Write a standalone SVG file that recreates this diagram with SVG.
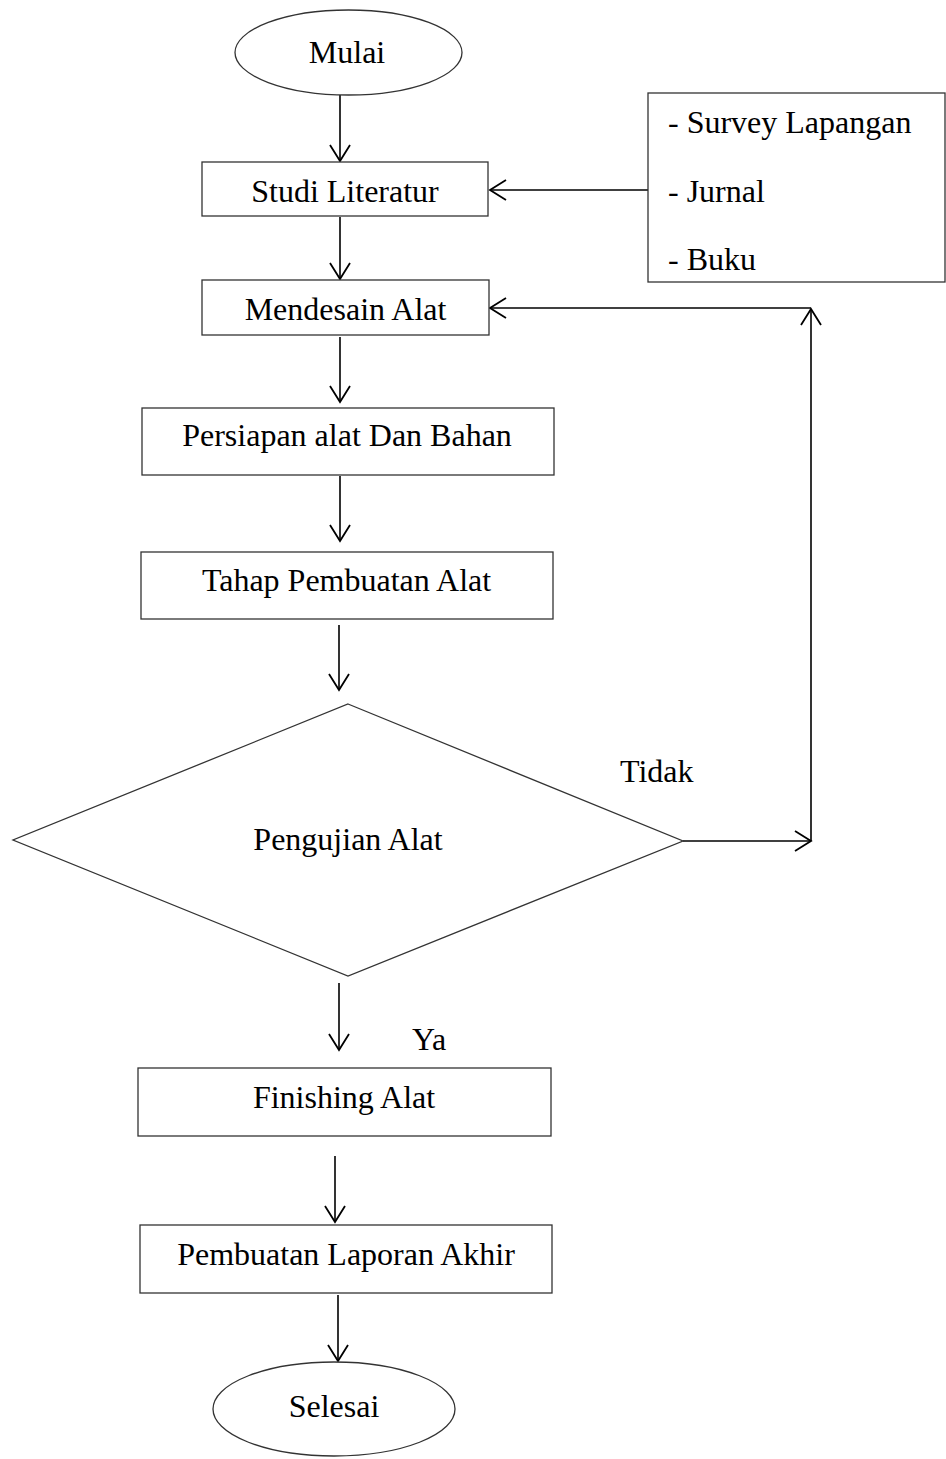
<svg xmlns="http://www.w3.org/2000/svg" width="946" height="1459" viewBox="0 0 946 1459">
<style>
  .box{fill:#fff;stroke:#333;stroke-width:1.3}
  .t{font-family:"Liberation Serif","Times New Roman",serif;font-size:32px;fill:#000}
  .c{text-anchor:middle}
  .ln{stroke:#000;stroke-width:1.6;fill:none}
</style>
<defs>
  <marker id="ah" markerUnits="userSpaceOnUse" markerWidth="24" markerHeight="24" viewBox="-18 -12 20 24" refX="0" refY="0" orient="auto">
    <path d="M-16,-10 L0,0 L-16,10" fill="none" stroke="#000" stroke-width="1.8"/>
  </marker>
</defs>
<rect width="946" height="1459" fill="#fff"/>
<g id="connectors">
  <line class="ln" x1="340" y1="95" x2="340" y2="161" marker-end="url(#ah)"/>
  <line class="ln" x1="340" y1="217" x2="340" y2="279" marker-end="url(#ah)"/>
  <line class="ln" x1="648" y1="190" x2="490" y2="190" marker-end="url(#ah)"/>
  <line class="ln" x1="340" y1="337" x2="340" y2="402" marker-end="url(#ah)"/>
  <line class="ln" x1="340" y1="476" x2="340" y2="541" marker-end="url(#ah)"/>
  <line class="ln" x1="339" y1="625" x2="339" y2="690" marker-end="url(#ah)"/>
  <line class="ln" x1="683" y1="841" x2="811" y2="841" marker-end="url(#ah)"/>
  <line class="ln" x1="811" y1="841" x2="811" y2="309" marker-end="url(#ah)"/>
  <line class="ln" x1="811" y1="308" x2="490" y2="308" marker-end="url(#ah)"/>
  <line class="ln" x1="339" y1="983" x2="339" y2="1050" marker-end="url(#ah)"/>
  <line class="ln" x1="335" y1="1156" x2="335" y2="1222" marker-end="url(#ah)"/>
  <line class="ln" x1="338" y1="1295" x2="338" y2="1361" marker-end="url(#ah)"/>
  <text class="t" x="620" y="782">Tidak</text>
  <text class="t" x="412" y="1050">Ya</text>
</g>
<g id="mulai">
  <ellipse class="box" cx="348.5" cy="52.5" rx="113.5" ry="42.5"/>
  <text class="t c" x="347" y="63">Mulai</text>
</g>
<g id="studi">
  <rect class="box" x="202" y="162" width="286" height="54"/>
  <text class="t c" x="345" y="202">Studi Literatur</text>
</g>
<g id="sumber">
  <rect class="box" x="648" y="93" width="297" height="189"/>
  <text class="t" x="668" y="133">- Survey Lapangan</text>
  <text class="t" x="668" y="202">- Jurnal</text>
  <text class="t" x="668" y="270">- Buku</text>
</g>
<g id="mendesain">
  <rect class="box" x="202" y="280" width="287" height="55"/>
  <text class="t c" x="345.5" y="320">Mendesain Alat</text>
</g>
<g id="persiapan">
  <rect class="box" x="142" y="408" width="412" height="67"/>
  <text class="t c" x="347" y="446">Persiapan alat Dan Bahan</text>
</g>
<g id="tahap">
  <rect class="box" x="141" y="552" width="412" height="67"/>
  <text class="t c" x="346.5" y="591">Tahap Pembuatan Alat</text>
</g>
<g id="pengujian">
  <polygon class="box" points="348,704 683,841 348,976 13,840"/>
  <text class="t c" x="348" y="850">Pengujian Alat</text>
</g>
<g id="finishing">
  <rect class="box" x="138" y="1068" width="413" height="68"/>
  <text class="t c" x="344" y="1108">Finishing Alat</text>
</g>
<g id="laporan">
  <rect class="box" x="140" y="1225" width="412" height="68"/>
  <text class="t c" x="346" y="1265">Pembuatan Laporan Akhir</text>
</g>
<g id="selesai">
  <ellipse class="box" cx="334" cy="1409" rx="121" ry="47"/>
  <text class="t c" x="334" y="1417">Selesai</text>
</g>
</svg>
